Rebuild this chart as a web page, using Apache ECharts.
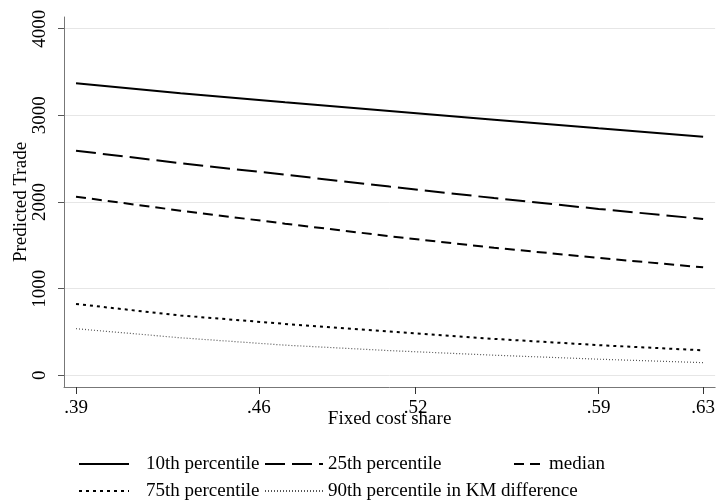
<!DOCTYPE html>
<html><head><meta charset="utf-8">
<script src="https://cdn.jsdelivr.net/npm/echarts@6/dist/echarts.min.js"></script>
<style>html,body{margin:0;padding:0;background:#fff}#c{width:718px;height:504px}</style>
</head><body><div id="c"></div>
<script>
const share = [0.39, 0.43, 0.47, 0.51, 0.55, 0.59, 0.63];
const p10 = [3370, 3255, 3150, 3050, 2950, 2850, 2754];
const p25 = [2592, 2448, 2315, 2178, 2045, 1920, 1804];
const median = [2061, 1900, 1750, 1605, 1472, 1355, 1246];
const p75 = [823, 690, 593, 505, 420, 348, 288];
const p90 = [538, 433, 348, 285, 232, 186, 146];
const xTicks = [0.39, 0.46, 0.52, 0.59, 0.63];
const yTicks = [0, 1000, 2000, 3000, 4000];
const names = ['10th percentile', '25th percentile', 'median', '75th percentile', '90th percentile in KM difference'];
const values = [p10, p25, median, p75, p90];

const FONT = 'Liberation Serif';
const styles = [
  {color: '#000', width: 2, type: 'solid'},
  {color: '#000', width: 2, type: [20, 7]},
  {color: '#000', width: 2, type: [10, 6]},
  {color: '#000', width: 2, type: [3, 4]},
  {color: '#555', width: 1.2, type: [1, 2]}
];

const chart = echarts.init(document.getElementById('c'), null, {renderer: 'canvas'});
const legendPos = [
  {left: 78, top: 454, w: 50, pad: 12},
  {left: 264, top: 454, w: 58, pad: 0},
  {left: 513, top: 454, w: 30, pad: 0},
  {left: 78, top: 481, w: 50, pad: 12},
  {left: 264, top: 481, w: 58, pad: 0}
];
chart.setOption({
  animation: false,
  backgroundColor: '#fff',
  grid: {left: 64, right: 2, top: 17, bottom: 117, containLabel: false},
  xAxis: {
    type: 'value', min: 0.3854, max: 0.6346,
    name: 'Fixed cost share', nameLocation: 'middle', nameGap: 23, nameMoveOverlap: false,
    nameTextStyle: {fontFamily: FONT, fontSize: 19, color: '#000'},
    axisLine: {onZero: false, lineStyle: {color: '#777', width: 1}},
    axisTick: {show: true, length: 7, customValues: xTicks, lineStyle: {color: '#333'}},
    axisLabel: {customValues: xTicks, margin: 12, fontFamily: FONT, fontSize: 19, color: '#000',
      formatter: v => String(Math.round(v * 100) / 100).replace(/^0/, '')},
    splitLine: {show: false}
  },
  yAxis: {
    type: 'value', min: -135, max: 4135,
    name: 'Predicted Trade', nameLocation: 'middle', nameGap: 33, nameRotate: 90, nameMoveOverlap: false,
    nameTextStyle: {fontFamily: FONT, fontSize: 19, color: '#000'},
    axisLine: {show: true, onZero: false, lineStyle: {color: '#777', width: 1}},
    axisTick: {show: true, length: 6, customValues: yTicks, lineStyle: {color: '#555'}},
    axisLabel: {customValues: yTicks, rotate: 90, margin: 14, fontFamily: FONT, fontSize: 19, color: '#000',
      formatter: v => String(v)},
    splitLine: {show: true, lineStyle: {color: '#e6e6e6', width: 1}}
  },
  legend: legendPos.map((p, i) => ({
    data: [names[i]], left: p.left, top: p.top, padding: 0,
    itemWidth: p.w, itemHeight: 20, itemGap: 0,
    itemStyle: {color: 'rgba(0,0,0,0)', borderWidth: 0, opacity: 0},
    textStyle: {fontFamily: FONT, fontSize: 19, color: '#000', padding: [0, 0, 0, p.pad], lineHeight: 20}
  })),
  series: names.map((n, i) => ({
    name: n, type: 'line', symbol: 'none', showSymbol: false,
    data: share.map((x, j) => [x, values[i][j]]),
    lineStyle: styles[i], itemStyle: {color: styles[i].color}
  }))
});
</script>
</body></html>
